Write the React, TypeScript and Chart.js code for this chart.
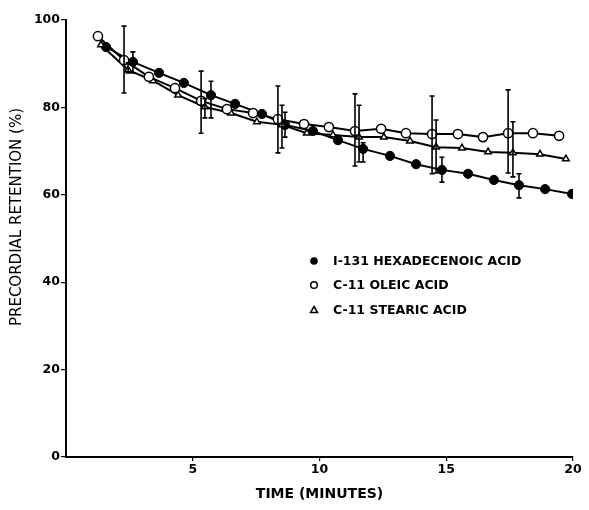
import React, { useEffect, useRef } from "react";
import { Chart, registerables } from "chart.js";
Chart.register(...registerables);

// ---- Data ----
const hexX = [1.58, 2.64, 3.67, 4.65, 5.72, 6.67, 7.73, 8.64, 9.74, 10.73, 11.72, 12.78, 13.81, 14.83, 15.86, 16.88, 17.87, 18.9, 19.96];
const hexY = [93.8, 90.4, 87.9, 85.6, 82.8, 80.8, 78.5, 76.0, 74.6, 72.5, 70.5, 68.9, 67.0, 65.7, 64.8, 63.4, 62.2, 61.3, 60.2];
const hexErrLow = [null, 87.9, null, null, 77.6, null, null, 73.2, null, null, 67.5, null, null, 62.9, null, null, 59.3, null, null];
const hexErrHigh = [null, 92.7, null, null, 86.0, null, null, 78.9, null, null, 71.9, null, null, 68.6, null, null, 64.8, null, null];

const oleX = [1.26, 2.29, 3.27, 4.3, 5.33, 6.35, 7.38, 8.36, 9.39, 10.37, 11.4, 12.43, 13.41, 14.44, 15.46, 16.45, 17.44, 18.42, 19.45];
const oleY = [96.3, 90.8, 87.0, 84.4, 81.5, 79.6, 78.7, 77.3, 76.2, 75.5, 74.6, 75.1, 74.1, 73.9, 73.9, 73.2, 74.1, 74.1, 73.5];
const oleErrLow = [null, 83.3, null, null, 74.1, null, null, 69.6, null, null, 66.6, null, null, 64.8, null, null, 65.0, null, null];
const oleErrHigh = [null, 98.6, null, null, 88.3, null, null, 84.9, null, null, 83.1, null, null, 82.6, null, null, 84.0, null, null];

const steX = [1.38, 2.45, 3.43, 4.42, 5.48, 6.51, 7.53, 8.52, 9.5, 10.53, 11.56, 12.54, 13.57, 14.6, 15.62, 16.65, 17.63, 18.7, 19.72];
const steY = [94.3, 88.6, 86.1, 82.8, 80.1, 78.7, 76.7, 76.0, 74.1, 73.7, 73.2, 73.2, 72.3, 70.9, 70.7, 69.8, 69.6, 69.3, 68.2];
const steErrLow = [null, 87.9, null, null, 77.6, null, null, 70.7, null, null, 67.5, null, null, 65.0, null, null, 64.1, null, null];
const steErrHigh = [null, 90.2, null, null, 82.0, null, null, 80.5, null, null, 80.5, null, null, 77.1, null, null, 76.7, null, null];

const seriesNames = ["I-131 HEXADECENOIC ACID", "C-11 OLEIC ACID", "C-11 STEARIC ACID"];
const xTitle = "TIME (MINUTES)";
const yTitle = "PRECORDIAL RETENTION (%)";
const xTicks = [5, 10, 15, 20];
const yTicks = [0, 20, 40, 60, 80, 100];

const FONT = "'DejaVu Sans', sans-serif";

const toPts = (xs: number[], ys: number[]) => xs.map((x, i) => ({ x, y: ys[i] }));

const errorBarPlugin = {
  id: "errorBars",
  afterDatasetsDraw(chart: any) {
    const ctx = chart.ctx;
    const xs = chart.scales.x;
    const ys = chart.scales.y;
    chart.data.datasets.forEach((ds: any) => {
      const lo = ds.errLow as (number | null)[];
      const hi = ds.errHigh as (number | null)[];
      if (!lo || !hi) return;
      ctx.save();
      ctx.strokeStyle = "#000";
      ctx.lineWidth = 1.6;
      ds.data.forEach((p: any, i: number) => {
        if (lo[i] == null || hi[i] == null) return;
        const px = xs.getPixelForValue(p.x);
        const y1 = ys.getPixelForValue(lo[i]);
        const y2 = ys.getPixelForValue(hi[i]);
        ctx.beginPath();
        ctx.moveTo(px, y1);
        ctx.lineTo(px, y2);
        ctx.moveTo(px - 2.5, y1);
        ctx.lineTo(px + 2.5, y1);
        ctx.moveTo(px - 2.5, y2);
        ctx.lineTo(px + 2.5, y2);
        ctx.stroke();
      });
      ctx.restore();
    });
  },
};

const annotPlugin = {
  id: "annot",
  afterDraw(chart: any) {
    const ctx = chart.ctx;
    ctx.save();
    // y axis title
    ctx.translate(17, 217);
    ctx.rotate(-Math.PI / 2);
    ctx.fillStyle = "#000";
    ctx.font = `15px ${FONT}`;
    ctx.textAlign = "center";
    ctx.textBaseline = "middle";
    ctx.fillText(yTitle, 0, 0);
    ctx.restore();

    // legend
    ctx.save();
    const rows = [261, 285, 310];
    const mx = 314;
    const tx = 333;
    ctx.fillStyle = "#000";
    ctx.strokeStyle = "#000";
    ctx.lineWidth = 1.5;
    // filled circle
    ctx.beginPath();
    ctx.arc(mx, rows[0], 3.8, 0, Math.PI * 2);
    ctx.fill();
    // open circle
    ctx.beginPath();
    ctx.arc(mx, rows[1], 3.3, 0, Math.PI * 2);
    ctx.stroke();
    // triangle
    ctx.beginPath();
    ctx.moveTo(mx, rows[2] - 3.5);
    ctx.lineTo(mx + 3.5, rows[2] + 2.5);
    ctx.lineTo(mx - 3.5, rows[2] + 2.5);
    ctx.closePath();
    ctx.stroke();
    ctx.font = `bold 12.5px ${FONT}`;
    ctx.textAlign = "left";
    ctx.textBaseline = "middle";
    seriesNames.forEach((n, i) => ctx.fillText(n, tx, rows[i] + 0.5));
    ctx.restore();
  },
};

export default function App() {
  const ref = useRef<HTMLCanvasElement | null>(null);
  useEffect(() => {
    if (!ref.current) return;
    const tickFont = { family: FONT, size: 12.5, weight: "bold" as const };
    const chart = new Chart(ref.current, {
      type: "line",
      data: {
        datasets: [
          {
            label: seriesNames[1],
            data: toPts(oleX, oleY),
            borderColor: "#000",
            borderWidth: 2,
            pointStyle: "circle",
            pointRadius: 4.6,
            pointBackgroundColor: "#fff",
            pointBorderColor: "#000",
            pointBorderWidth: 1.5,
            tension: 0,
            errLow: oleErrLow,
            errHigh: oleErrHigh,
          } as any,
          {
            label: seriesNames[2],
            data: toPts(steX, steY),
            borderColor: "#000",
            borderWidth: 2,
            pointStyle: "triangle",
            pointRadius: 3.8,
            pointBackgroundColor: "#fff",
            pointBorderColor: "#000",
            pointBorderWidth: 1.5,
            tension: 0,
            errLow: steErrLow,
            errHigh: steErrHigh,
          } as any,
          {
            label: seriesNames[0],
            data: toPts(hexX, hexY),
            borderColor: "#000",
            borderWidth: 2,
            pointStyle: "circle",
            pointRadius: 4.6,
            pointBackgroundColor: "#000",
            pointBorderColor: "#000",
            pointBorderWidth: 1,
            tension: 0,
            errLow: hexErrLow,
            errHigh: hexErrHigh,
          } as any,
        ],
      },
      options: {
        animation: false,
        responsive: false,
        maintainAspectRatio: false,
        layout: { padding: { left: 0, right: 16, top: 20, bottom: 0 } },
        plugins: {
          legend: { display: false },
          tooltip: { enabled: false },
        },
        scales: {
          x: {
            type: "linear",
            min: 0,
            max: 20,
            afterBuildTicks: (s: any) => {
              s.ticks = xTicks.map((v) => ({ value: v }));
            },
            ticks: {
              color: "#000",
              font: tickFont,
              padding: 1,
              maxRotation: 0,
              autoSkip: false,
            },
            grid: { drawOnChartArea: false, drawTicks: true, tickLength: 4, color: "#000", lineWidth: 1.2 },
            border: { color: "#000", width: 2 },
            title: {
              display: true,
              text: xTitle,
              color: "#000",
              font: { family: FONT, size: 14, weight: "bold" },
              padding: { top: 0, bottom: 7 },
            },
            afterFit: (s: any) => {
              s.height = 53;
            },
          },
          y: {
            type: "linear",
            min: 0,
            max: 100,
            afterBuildTicks: (s: any) => {
              s.ticks = yTicks.map((v) => ({ value: v }));
            },
            ticks: {
              color: "#000",
              font: tickFont,
              padding: 1,
              autoSkip: false,
            },
            grid: { drawOnChartArea: false, drawTicks: true, tickLength: 5, color: "#000", lineWidth: 1.2 },
            border: { color: "#000", width: 2 },
            afterFit: (s: any) => {
              s.width = 66;
            },
          },
        },
      },
      plugins: [errorBarPlugin, annotPlugin],
    });
    return () => chart.destroy();
  }, []);
  return (
    <div style={{ position: "fixed", left: 0, top: 0, width: 589, height: 510, background: "#fff" }}>
      <canvas ref={ref} width={589} height={510} style={{ width: 589, height: 510, display: "block" }} />
    </div>
  );
}
